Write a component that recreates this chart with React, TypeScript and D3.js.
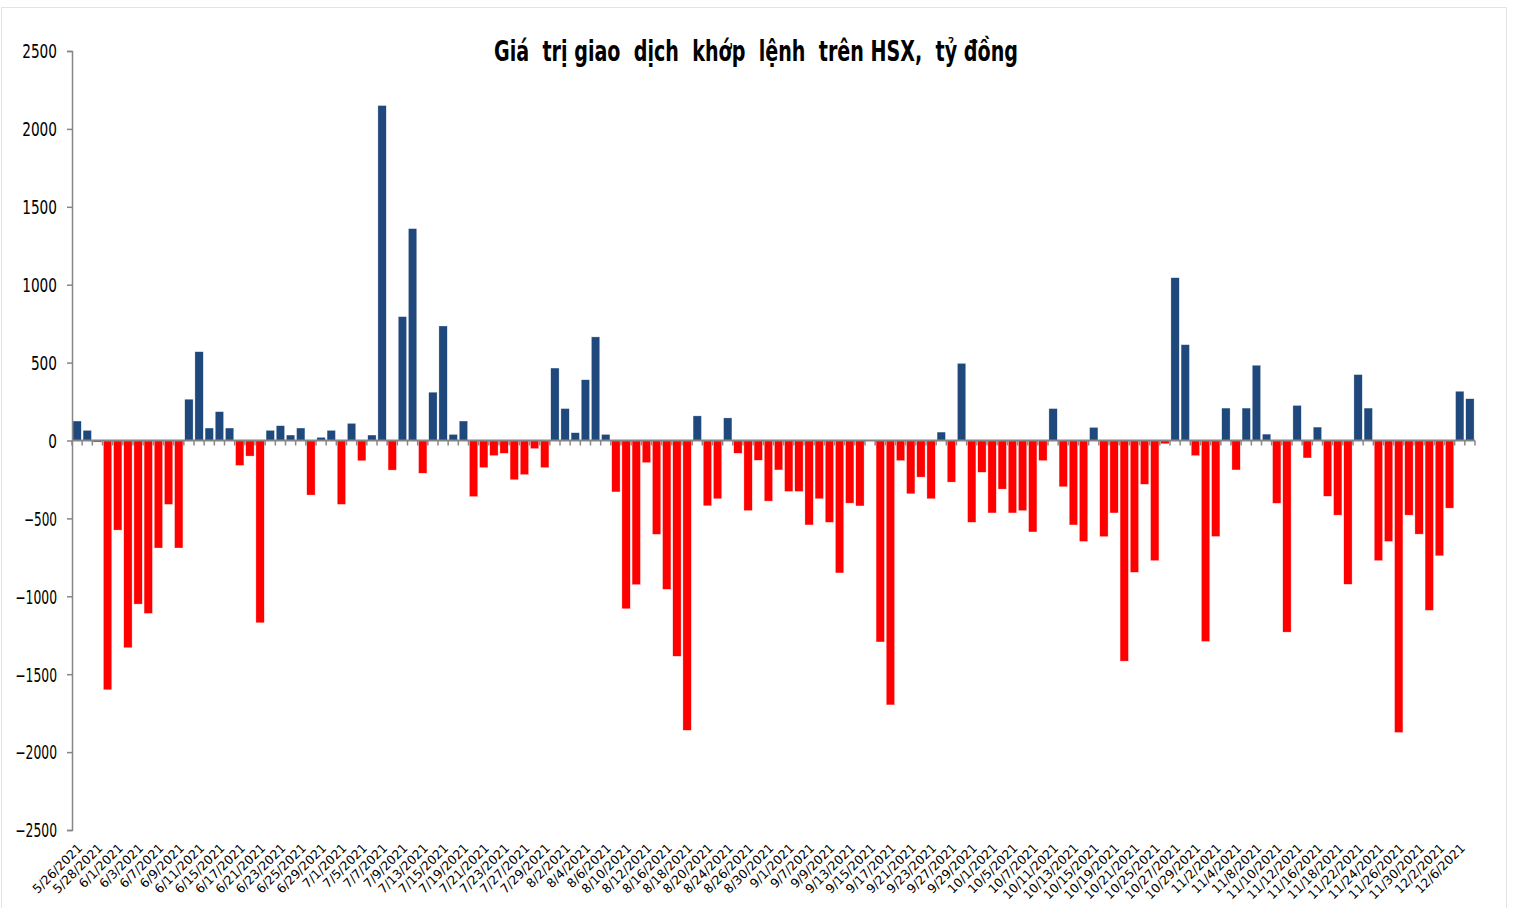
import * as d3 from 'd3';
import { useEffect, useRef } from 'react';

// Ngày giao dịch (mỗi cột một phiên)
const tradingDays = [
  '5/26/2021', '5/27/2021', '5/28/2021', '5/31/2021',
  '6/1/2021', '6/2/2021', '6/3/2021', '6/4/2021', '6/7/2021', '6/8/2021', '6/9/2021', '6/10/2021', '6/11/2021',
  '6/14/2021', '6/15/2021', '6/16/2021', '6/17/2021', '6/18/2021', '6/21/2021', '6/22/2021', '6/23/2021',
  '6/24/2021', '6/25/2021', '6/28/2021', '6/29/2021', '6/30/2021',
  '7/1/2021', '7/2/2021', '7/5/2021', '7/6/2021', '7/7/2021', '7/8/2021', '7/9/2021', '7/12/2021', '7/13/2021',
  '7/14/2021', '7/15/2021', '7/16/2021', '7/19/2021', '7/20/2021', '7/21/2021', '7/22/2021', '7/23/2021',
  '7/26/2021', '7/27/2021', '7/28/2021', '7/29/2021', '7/30/2021',
  '8/2/2021', '8/3/2021', '8/4/2021', '8/5/2021', '8/6/2021', '8/9/2021', '8/10/2021', '8/11/2021', '8/12/2021',
  '8/13/2021', '8/16/2021', '8/17/2021', '8/18/2021', '8/19/2021', '8/20/2021', '8/23/2021', '8/24/2021',
  '8/25/2021', '8/26/2021', '8/27/2021', '8/30/2021', '8/31/2021',
  '9/1/2021', '9/6/2021', '9/7/2021', '9/8/2021', '9/9/2021', '9/10/2021', '9/13/2021', '9/14/2021', '9/15/2021',
  '9/16/2021', '9/17/2021', '9/20/2021', '9/21/2021', '9/22/2021', '9/23/2021', '9/24/2021', '9/27/2021',
  '9/28/2021', '9/29/2021', '9/30/2021',
  '10/1/2021', '10/4/2021', '10/5/2021', '10/6/2021', '10/7/2021', '10/8/2021', '10/11/2021', '10/12/2021',
  '10/13/2021', '10/14/2021', '10/15/2021', '10/18/2021', '10/19/2021', '10/20/2021', '10/21/2021', '10/22/2021',
  '10/25/2021', '10/26/2021', '10/27/2021', '10/28/2021', '10/29/2021',
  '11/1/2021', '11/2/2021', '11/3/2021', '11/4/2021', '11/5/2021', '11/8/2021', '11/9/2021', '11/10/2021',
  '11/11/2021', '11/12/2021', '11/15/2021', '11/16/2021', '11/17/2021', '11/18/2021', '11/19/2021', '11/22/2021',
  '11/23/2021', '11/24/2021', '11/25/2021', '11/26/2021', '11/29/2021', '11/30/2021',
  '12/1/2021', '12/2/2021', '12/3/2021', '12/6/2021', '12/7/2021',
];

// Giá trị khớp lệnh ròng, tỷ đồng
const netValues = [
  125, 65, -10, -1600, -575, -1330, -1050, -1110, -690, -410,
  -690, 265, 570, 80, 185, 80, -160, -100, -1170, 65,
  95, 35, 80, -350, 20, 65, -410, 110, -130, 35,
  2150, -190, 795, 1360, -210,
  310, 735, 39, 125, -360, -174, -97, -82, -252, -219,
  -52, -174, 465, 205, 50, 390, 665, 39, -330, -1080,
  -925, -142, -602, -955, -1385, -1860, 158, -419, -374, 145,
  -82, -450, -127, -389,
  -189, -327, -327, -542, -374, -525, -850, -402, -420, 3,
  -1293, -1697, -129, -342, -235, -374, 54, -267, 495, -525,
  -204, -465, -312, -465, -450, -587, -129, 205, -297, -542,
  -648, 84, -617, -465, -1416,
  -846, -281, -771, -21, 1045, 615, -97, -1290, -616, 208,
  -189, 208, 483, 41, -403, -1230, 225, -112, 86, -358,
  -479, -923, 423, 208, -771, -648, -1874, -479, -601, -1090,
  -740, -434, 316, 268,
];

const yTicks = [-2500, -2000, -1500, -1000, -500, 0, 500, 1000, 1500, 2000, 2500];

const title = 'Giá  trị giao  dịch  khớp  lệnh  trên HSX,  tỷ đồng';

const App = () => {
  const chartRef = useRef(null);

  const width = 1515;
  const height = 908;
  const margin = { top: 51, bottom: 78, left: 72, right: 40 };

  useEffect(() => {
    const svg = d3.select(chartRef.current);
    svg.selectAll('*').remove();

    const data = tradingDays.map((d, i) => ({ day: d, value: netValues[i] }));

    const x = d3.scaleBand()
      .domain(tradingDays)
      .range([margin.left, width - margin.right])
      .paddingInner(0.18)
      .paddingOuter(0.09);

    const y = d3.scaleLinear()
      .domain([-2500, 2500])
      .range([height - margin.bottom, margin.top]);

    const axisColor = '#868686';
    const narrowFont = '"Liberation Sans Narrow", "DejaVu Sans Condensed", "Liberation Sans", sans-serif';

    // khung ngoài
    svg.append('rect')
      .attr('x', 1.5).attr('y', 7.5)
      .attr('width', 1505).attr('height', 905)
      .attr('fill', '#fff')
      .attr('stroke', '#e3e3e3');

    // tiêu đề
    svg.append('text')
      .attr('x', 756)
      .attr('y', 61)
      .attr('text-anchor', 'middle')
      .attr('textLength', 524)
      .attr('lengthAdjust', 'spacingAndGlyphs')
      .style('white-space', 'pre')
      .style('font-family', narrowFont)
      .style('font-weight', 'bold')
      .style('font-size', '29px')
      .attr('fill', '#000')
      .text(title);

    // cột
    svg.append('g')
      .selectAll('rect')
      .data(data)
      .enter()
      .append('rect')
      .attr('x', d => x(d.day))
      .attr('width', x.bandwidth())
      .attr('y', d => y(Math.max(0, d.value)))
      .attr('height', d => Math.abs(y(d.value) - y(0)))
      .attr('fill', d => (d.value >= 0 ? '#1f497d' : '#ff0000'))
      .attr('stroke', '#ffffff')
      .attr('stroke-opacity', 0.6)
      .attr('stroke-width', 0.5);

    // trục Y
    const yAxis = d3.axisLeft(y)
      .tickValues(yTicks)
      .tickFormat(d3.format('d'))
      .tickSize(5)
      .tickPadding(10);
    const gy = svg.append('g')
      .attr('transform', `translate(${margin.left},0)`)
      .call(yAxis);
    gy.select('.domain').attr('stroke', axisColor).attr('stroke-width', 1.5);
    gy.selectAll('.tick line').attr('stroke', axisColor).attr('stroke-width', 1.5);
    gy.selectAll('.tick text')
      .attr('fill', '#000')
      .attr('dy', '0.36em')
      .attr('textLength', (d) => {
        const s = String(d);
        const digits = s.replace('-', '').length;
        return digits * 8.7 + (s.startsWith('-') ? 7 : 0);
      })
      .attr('lengthAdjust', 'spacingAndGlyphs')
      .style('font-family', narrowFont)
      .style('font-size', '19px');

    // trục X tại 0
    const x0 = y(0);
    const gx = svg.append('g');
    gx.append('line')
      .attr('x1', x.range()[0]).attr('x2', x.range()[1])
      .attr('y1', x0).attr('y2', x0)
      .attr('stroke', axisColor)
      .attr('stroke-width', 2);
    const step = x.step();
    const start = x.range()[0];
    gx.selectAll('line.tk')
      .data(d3.range(tradingDays.length + 1))
      .enter()
      .append('line')
      .attr('class', 'tk')
      .attr('x1', i => start + i * step)
      .attr('x2', i => start + i * step)
      .attr('y1', x0)
      .attr('y2', x0 + 5)
      .attr('stroke', axisColor)
      .attr('stroke-width', 1.5);

    // nhãn ngày (cách một phiên)
    svg.append('g')
      .selectAll('text')
      .data(tradingDays.filter((d, i) => i % 2 === 0))
      .enter()
      .append('text')
      .attr('transform', d => `translate(${x(d) + x.bandwidth() / 2 + 6},849) rotate(-45)`)
      .attr('text-anchor', 'end')
      .style('font-family', '"DejaVu Sans", sans-serif')
      .style('font-size', '12.5px')
      .attr('fill', '#000')
      .text(d => d);
  }, []);

  return (
    <svg
      ref={chartRef}
      width={width}
      height={height}
      style={{ position: 'absolute', left: 0, top: 0, background: '#fff' }}
    ></svg>
  );
};

export default App;
